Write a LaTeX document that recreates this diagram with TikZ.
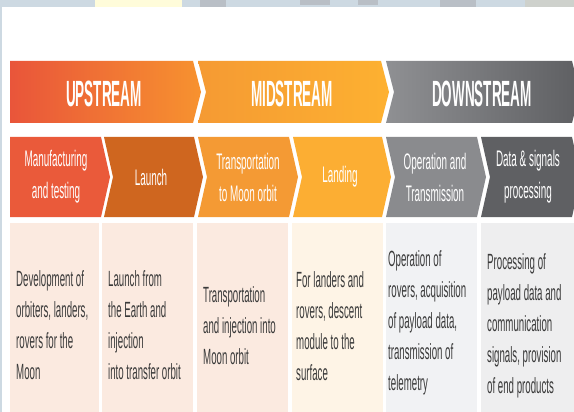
\documentclass[tikz,border=0pt]{standalone}
\usepackage{fontspec}
\newfontfamily\headfont[FakeStretch=0.37]{Liberation Sans}
\newfontfamily\labelfont[FakeStretch=0.44]{Liberation Sans}

\definecolor{upleft}{HTML}{E9553A}
\definecolor{upright}{HTML}{F7922F}
\definecolor{midleft}{HTML}{F59A33}
\definecolor{midright}{HTML}{FDB131}
\definecolor{downleft}{HTML}{8F9093}
\definecolor{downright}{HTML}{5E5F62}
\definecolor{manufcol}{HTML}{EA5A3A}
\definecolor{launchcol}{HTML}{CF661F}
\definecolor{transpcol}{HTML}{F49A34}
\definecolor{landcol}{HTML}{FCAE33}
\definecolor{opercol}{HTML}{8A8B8E}
\definecolor{datacol}{HTML}{5F6063}
\definecolor{peachcell}{HTML}{FBEAE0}
\definecolor{creamcell}{HTML}{FEF4E6}
\definecolor{greycell}{HTML}{F1F2F4}
\definecolor{darkcell}{HTML}{EEEEEF}
\definecolor{bodytext}{HTML}{3A3A3A}
\definecolor{photoblue}{HTML}{CDD9E2}
\definecolor{photoyellow}{HTML}{FFFCDA}
\definecolor{photogrey}{HTML}{B9BFC6}

% header chevron: options, left x, right x, notch depth
\newcommand{\headchev}[4]{%
  \path[#1] (#2,61) -- (#3,61) -- (#3+8,92) -- (#3,123) -- (#2,123) -- (#2+#4,92) -- cycle;}
% step chevron: options, left x, right x, notch depth
\newcommand{\stepchev}[4]{%
  \path[#1] (#2,137) -- (#3,137) -- (#3+9,177) -- (#3,217) -- (#2,217) -- (#2+#4,177) -- cycle;}

\tikzset{
  headtext/.style={text=white, inner sep=0pt,
    font=\headfont\bfseries\fontsize{36.5}{36.5}\selectfont},
  steptext/.style={text=white, align=center, inner sep=0pt,
    font=\labelfont\fontsize{22.5}{32}\selectfont},
  celltext/.style={text=bodytext, align=left, anchor=west, inner sep=0pt,
    font=\labelfont\fontsize{22}{31}\selectfont},
}

\begin{document}
\begin{tikzpicture}[x=1pt,y=-1pt]
\useasboundingbox (0,0) rectangle (574,412);
\fill[white] (0,0) rectangle (574,412);
% faded photo behind the card
\fill[photoblue] (0,0) rectangle (574,7);
\fill[photoblue] (0,0) rectangle (1.5,412);
\fill[photoyellow] (95,0) rectangle (182,7);
\fill[photogrey] (200,0) rectangle (226,7);
\fill[photogrey] (300,0) rectangle (330,5);
\fill[photogrey] (358,0) rectangle (378,5);
\fill[photogrey] (440,0) rectangle (476,7);
\fill[photogrey!70!photoyellow] (525,0) rectangle (574,7);

% streams
\headchev{left color=upleft, right color=upright}{10}{193}{0}
\headchev{left color=midleft, right color=midright}{198}{381}{8}
\headchev{left color=downleft, right color=downright}{386}{572}{8}
\node[headtext] (up) at (104,94) {UPSTREAM};
\node[headtext] (mid) at (292,94) {MIDSTREAM};
\node[headtext] (down) at (482,94) {DOWNSTREAM};

% steps
\stepchev{fill=manufcol}{10}{101}{0}
\stepchev{fill=launchcol}{104}{194}{9}
\stepchev{fill=transpcol}{198}{289}{9}
\stepchev{fill=landcol}{293}{382}{9}
\stepchev{fill=opercol}{386}{477}{9}
\stepchev{fill=datacol}{481}{572}{9}
\node[steptext] (manuf) at (56,177) {Manufacturing\\and testing};
\node[steptext] (launch) at (151,177) {Launch};
\node[steptext] (transp) at (248,177) {Transportation\\to Moon orbit};
\node[steptext] (landing) at (340,177) {Landing};
\node[steptext] (operation) at (435,177) {Operation and\\Transmission};
\node[steptext] (dataproc) at (528,177) {Data \& signals\\processing};

% descriptions
\fill[peachcell] (10,223) rectangle (99,412);
\fill[peachcell] (102,223) rectangle (193,412);
\fill[peachcell] (197,223) rectangle (288,412);
\fill[creamcell] (292,223) rectangle (383,412);
\fill[greycell] (386,223) rectangle (477,412);
\fill[darkcell] (481,223) rectangle (574,412);
\node[celltext] (manufdesc) at (16,325) {Development of\\orbiters, landers,\\rovers for the\\Moon};
\node[celltext] (launchdesc) at (108,325) {Launch from\\the Earth and\\injection\\into transfer orbit};
\node[celltext] (transpdesc) at (203,326) {Transportation\\and injection into\\Moon orbit};
\node[celltext] (landingdesc) at (296,326) {For landers and\\rovers, descent\\module to the\\surface};
\node[celltext] (operdesc) at (388,323) {Operation of\\rovers, acquisition\\of payload data,\\transmission of\\telemetry};
\node[celltext] (datadesc) at (487,326) {Processing of\\payload data and\\communication\\signals, provision\\of end products};
\end{tikzpicture}
\end{document}
